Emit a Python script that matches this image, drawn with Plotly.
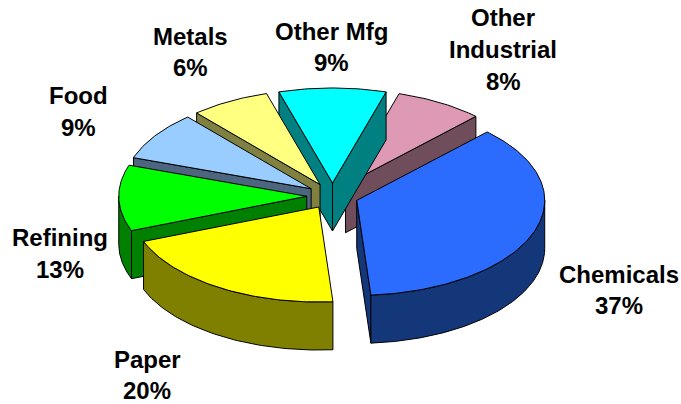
import math
import plotly.graph_objects as go

# Data
categories = ["Chemicals", "Paper", "Refining", "Food", "Metals", "Other Mfg", "Other Industrial"]
# Slice sizes (the 3D view skews them a little against the printed labels)
values = [36.6, 20.3, 11.2, 8.3, 6.8, 9.2, 7.6]
shown_pct = [37, 20, 13, 9, 6, 9, 8]
top_colors = ["#2B6CFF", "#FFFF00", "#00FF00", "#99CCFF", "#FFFF80", "#00FFFF", "#DE9AB4"]
wall_colors = ["#14377A", "#808000", "#008000", "#4C6680", "#808040", "#008080", "#6F4D5A"]

# Projection of the exploded pie
CX, CY, A, B, DEPTH, EXPLODE = 332.5, 196, 188, 95, 48, 0.137
total = sum(values)
first_start = values[5] / total * 180 + values[6] / total * 360


def pt(angle, r=1.0, ox=0.0, oy=0.0, drop=0.0):
    t = math.radians(angle)
    return (ox + r * A * math.sin(t), oy - r * B * math.cos(t) + drop)


def poly(fig, pts, color):
    xs = [p[0] for p in pts] + [pts[0][0]]
    ys = [p[1] for p in pts] + [pts[0][1]]
    fig.add_trace(go.Scatter(x=xs, y=ys, mode="lines", fill="toself", fillcolor=color,
                             line=dict(color="#000000", width=1), hoverinfo="skip",
                             showlegend=False))


wedges = []
start = first_start
for i, v in enumerate(values):
    sweep = v / total * 360
    wedges.append((i, start, start + sweep))
    start += sweep

fig = go.Figure()
order = [6, 5, 4, 3, 2, 1, 0]
for i, t1, t2 in sorted(wedges, key=lambda w: order.index(w[0])):
    mid = math.radians((t1 + t2) / 2)
    ox = CX + EXPLODE * A * math.sin(mid)
    oy = CY - EXPLODE * B * math.cos(mid)
    apex = (ox, oy)
    apex_low = (ox, oy + DEPTH)
    n = max(8, int(t2 - t1))
    # radial walls
    if math.sin(math.radians(t1)) < 0:
        a_pt = pt(t1, ox=ox, oy=oy)
        poly(fig, [apex, a_pt, (a_pt[0], a_pt[1] + DEPTH), apex_low], wall_colors[i])
    if math.sin(math.radians(t2)) > 0:
        a_pt = pt(t2, ox=ox, oy=oy)
        poly(fig, [apex, a_pt, (a_pt[0], a_pt[1] + DEPTH), apex_low], wall_colors[i])
    # outer wall: the near half of the rim only
    lo = max(t1, 90)
    hi = min(t2, 270)
    if hi > lo:
        arc = [lo + (hi - lo) * k / n for k in range(n + 1)]
        upper = [pt(a, ox=ox, oy=oy) for a in arc]
        lower = [pt(a, ox=ox, oy=oy, drop=DEPTH) for a in reversed(arc)]
        poly(fig, upper + lower, wall_colors[i])
    # top face
    arc = [t1 + (t2 - t1) * k / n for k in range(n + 1)]
    poly(fig, [apex] + [pt(a, ox=ox, oy=oy) for a in arc], top_colors[i])

label_lines = [
    (["Chemicals", f"{shown_pct[0]}%"], 619, [274, 305]),
    (["Paper", f"{shown_pct[1]}%"], 147, [359, 390]),
    (["Refining", f"{shown_pct[2]}%"], 60, [237, 269]),
    (["Food", f"{shown_pct[3]}%"], 78, [95, 127]),
    (["Metals", f"{shown_pct[4]}%"], 190, [36, 67]),
    (["Other Mfg", f"{shown_pct[5]}%"], 331, [31, 62]),
    (["Other", "Industrial", f"{shown_pct[6]}%"], 503, [17, 49, 81]),
]
for lines, x, ys in label_lines:
    for text, y in zip(lines, ys):
        fig.add_annotation(x=x, y=y, text=f"<b>{text}</b>", showarrow=False,
                           xanchor="center", yanchor="middle",
                           font=dict(family="Liberation Sans", size=24, color="#000000"))

fig.update_layout(
    width=681, height=404, margin=dict(l=0, r=0, t=0, b=0),
    paper_bgcolor="#FFFFFF", plot_bgcolor="#FFFFFF", showlegend=False,
    xaxis=dict(range=[0, 681], visible=False, fixedrange=True),
    yaxis=dict(range=[404, 0], visible=False, fixedrange=True),
)
fig.write_html("out.html", config={"displayModeBar": False},
               post_script="document.body.style.margin='0';document.documentElement.style.overflow='hidden';")
